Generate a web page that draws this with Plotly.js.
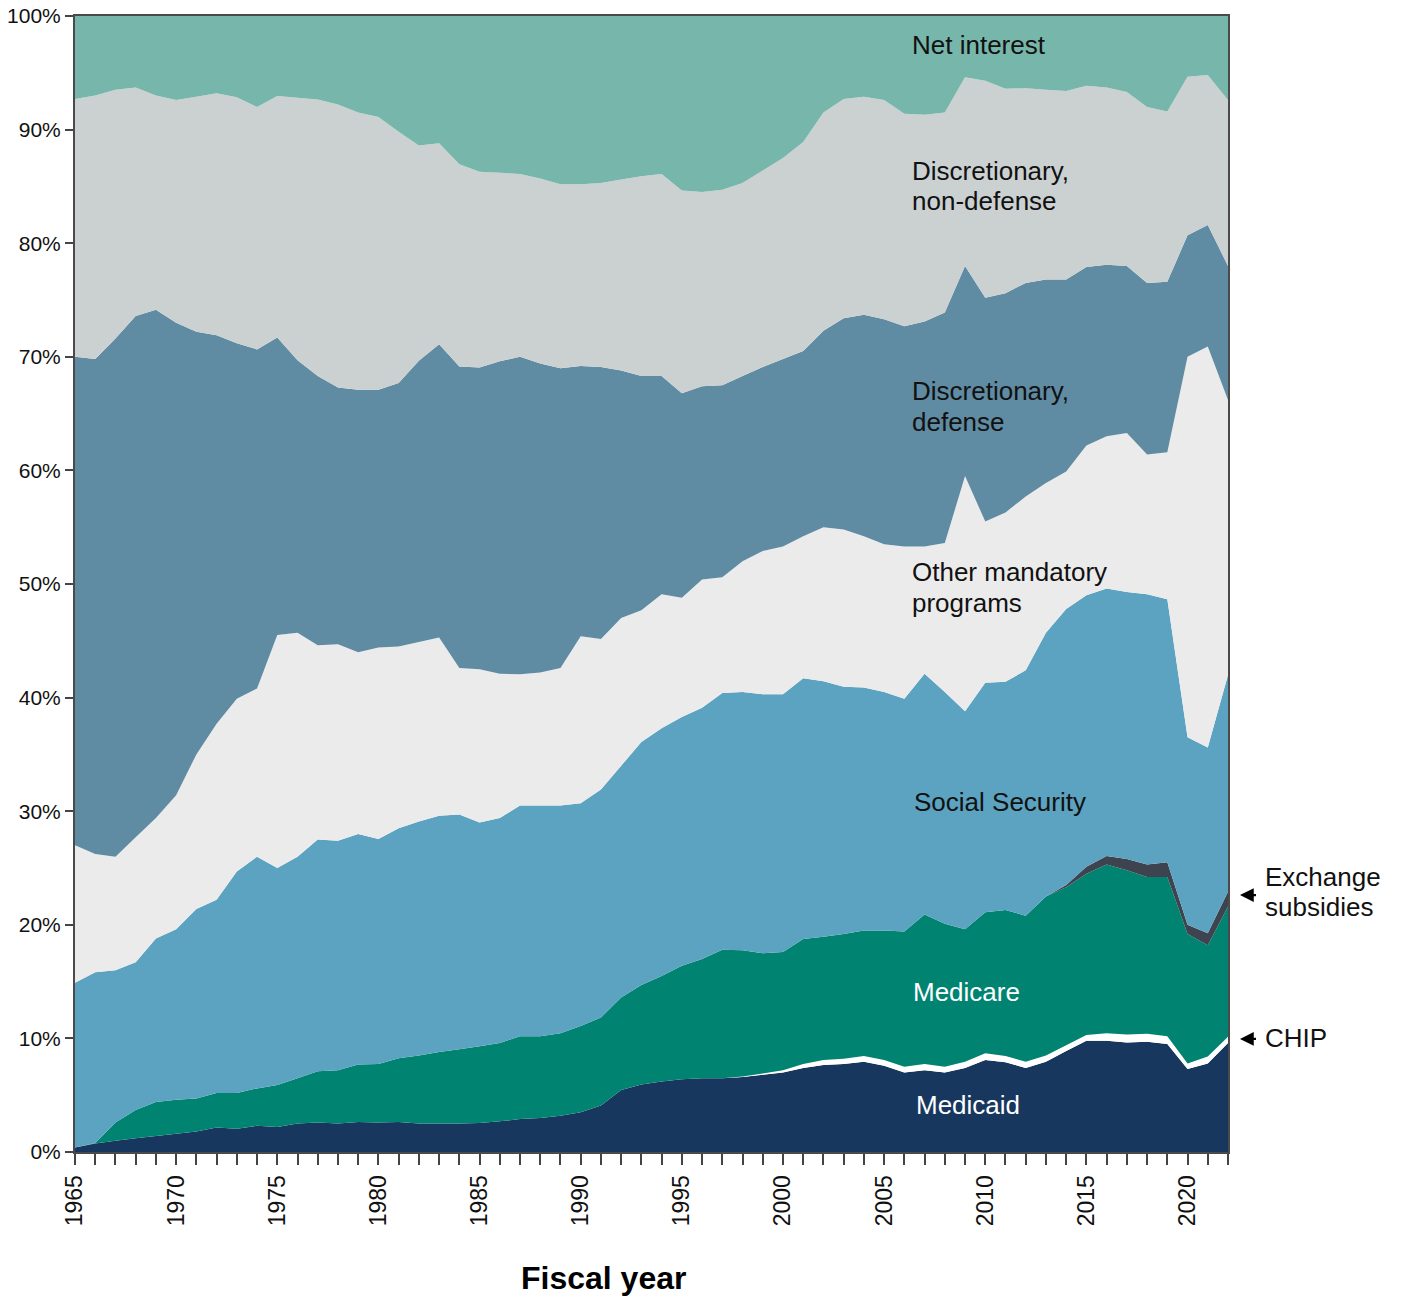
<!DOCTYPE html>
<html>
<head>
<meta charset="utf-8">
<script src="https://cdn.plot.ly/plotly-3.0.1.min.js"></script>
<style>
  html, body { margin: 0; padding: 0; background: #ffffff; }
  #chart { width: 1401px; height: 1297px; }
</style>
</head>
<body>
<div id="chart"></div>
<script>
// Fiscal years
const years = [
  1965,1966,1967,1968,1969,1970,1971,1972,1973,1974,
  1975,1976,1977,1978,1979,1980,1981,1982,1983,1984,
  1985,1986,1987,1988,1989,1990,1991,1992,1993,1994,
  1995,1996,1997,1998,1999,2000,2001,2002,2003,2004,
  2005,2006,2007,2008,2009,2010,2011,2012,2013,2014,
  2015,2016,2017,2018,2019,2020,2021,2022
];

// Shares of total outlays (%)
const medicaid = [
  0.4,0.75,1.0,1.2,1.4,1.6,1.8,2.15,2.05,2.3,
  2.2,2.5,2.6,2.5,2.65,2.6,2.65,2.5,2.5,2.5,
  2.55,2.7,2.9,3.0,3.2,3.5,4.1,5.45,5.95,6.2,
  6.4,6.5,6.5,6.6,6.8,7.0,7.4,7.65,7.75,7.95,
  7.6,7.0,7.2,7.0,7.4,8.1,7.9,7.4,7.95,8.9,
  9.8,9.8,9.65,9.7,9.5,7.3,7.8,9.6
];
const chip = [
  0,0,0,0,0,0,0,0,0,0,
  0,0,0,0,0,0,0,0,0,0,
  0,0,0,0,0,0,0,0,0,0,
  0,0,0,0.05,0.1,0.2,0.35,0.45,0.45,0.5,
  0.5,0.5,0.55,0.5,0.55,0.6,0.55,0.55,0.55,0.5,
  0.5,0.65,0.7,0.7,0.7,0.5,0.6,0.55
];
const medicare = [
  0,0.05,1.6,2.5,3.0,3.0,2.9,3.05,3.15,3.3,
  3.7,4.0,4.5,4.7,5.05,5.15,5.6,6.0,6.3,6.55,
  6.75,6.9,7.3,7.2,7.25,7.6,7.75,8.15,8.75,9.3,
  10.0,10.5,11.3,11.1,10.6,10.4,11.0,10.85,11.0,11.05,
  11.4,11.9,13.15,12.6,11.65,12.4,12.85,12.85,14.0,13.9,
  14.2,14.85,14.45,13.8,14.0,11.4,9.8,11.45
];
const exchangeSubsidies = [
  0,0,0,0,0,0,0,0,0,0,
  0,0,0,0,0,0,0,0,0,0,
  0,0,0,0,0,0,0,0,0,0,
  0,0,0,0,0,0,0,0,0,0,
  0,0,0,0,0,0,0,0,0,0.2,
  0.6,0.75,1.0,1.1,1.3,0.8,1.05,1.3
];
const socialSecurity = [
  14.5,15.03,13.4,13.0,14.4,15.0,16.7,17.0,19.5,20.4,
  19.1,19.5,20.4,20.2,20.3,19.8,20.25,20.6,20.8,20.65,
  19.7,19.8,20.3,20.3,20.05,19.6,20.05,20.4,21.4,21.8,
  21.9,22.1,22.6,22.75,22.8,22.7,22.95,22.5,21.75,21.4,
  21.0,20.5,21.2,20.4,19.2,20.2,20.1,21.6,23.2,24.3,
  23.9,23.55,23.5,23.8,23.15,16.5,16.35,19.1
];
const otherMandatory = [
  12.1,10.4,10.0,11.0,10.6,11.8,13.6,15.5,15.2,14.8,
  20.5,19.7,17.1,17.3,16.0,16.85,16.0,15.8,15.7,12.9,
  13.5,12.7,11.55,11.7,12.1,14.7,13.25,13.0,11.6,11.8,
  10.5,11.3,10.2,11.5,12.6,13.0,12.5,13.55,13.85,13.3,
  13.0,13.4,11.2,13.1,20.7,14.2,14.9,15.3,13.2,12.1,
  13.2,13.4,14.0,12.3,12.95,33.5,35.3,24.2
];
const discDefense = [
  43.0,43.6,45.6,45.9,44.75,41.6,37.2,34.2,31.3,29.85,
  26.2,24.0,23.7,22.6,23.1,22.7,23.2,24.75,25.8,26.55,
  26.55,27.5,27.95,27.2,26.4,23.8,23.95,21.8,20.6,19.2,
  18.0,17.0,16.9,16.3,16.2,16.5,16.3,17.3,18.6,19.5,
  19.8,19.4,19.8,20.3,18.5,19.7,19.3,18.8,17.9,16.9,
  15.7,15.1,14.7,15.1,15.0,10.7,10.7,11.8
];
const discNonDefense = [
  22.7,23.2,21.9,20.1,18.85,19.6,20.7,21.3,21.65,21.35,
  21.25,23.1,24.35,24.9,24.4,24.0,22.1,18.95,17.7,17.8,
  17.25,16.6,16.1,16.3,16.2,16.0,16.2,16.8,17.6,17.8,
  17.85,17.1,17.2,17.0,17.3,17.7,18.4,19.2,19.3,19.2,
  19.3,18.7,18.2,17.6,16.6,19.1,18.0,17.15,16.7,16.6,
  15.95,15.6,15.3,15.5,15.0,13.95,13.2,14.6
];
const netInterest = [
  7.3,7.0,6.5,6.3,7.0,7.4,7.1,6.8,7.15,8.0,
  7.05,7.2,7.35,7.8,8.5,8.9,10.2,11.4,11.2,13.05,
  13.7,13.8,13.9,14.3,14.8,14.8,14.7,14.4,14.1,13.9,
  15.35,15.5,15.3,14.7,13.6,12.5,11.1,8.5,7.3,7.1,
  7.4,8.6,8.7,8.5,5.4,5.7,6.4,6.35,6.5,6.6,
  6.15,6.3,6.7,8.0,8.4,5.35,5.2,7.4
];

const seriesNames = ["Medicaid","CHIP","Medicare","Exchange subsidies","Social Security",
  "Other mandatory programs","Discretionary, defense","Discretionary, non-defense","Net interest"];
const seriesValues = [medicaid, chip, medicare, exchangeSubsidies, socialSecurity,
  otherMandatory, discDefense, discNonDefense, netInterest];
const seriesColors = ["#18375f","#ffffff","#008471","#3d4450","#5ba3c0",
  "#ebebeb","#5f8ba3","#cbd1d1","#77b6aa"];

const traces = seriesNames.map((name, i) => ({
  type: "scatter",
  x: years,
  y: seriesValues[i],
  name: name,
  stackgroup: "one",
  groupnorm: i === 0 ? "percent" : undefined,
  mode: "none",
  fillcolor: seriesColors[i],
  line: { width: 0 },
  hoverinfo: "skip",
  showlegend: false
}));

const FONT = "Liberation Sans, Arial, Helvetica, sans-serif";
const labelFont = { family: FONT, size: 26, color: "#111111" };
const whiteFont = { family: FONT, size: 26, color: "#ffffff" };

// In-chart labels (one annotation per text line)
const labelX = 0.7242;
const annotations = [
  { text: "Net interest", x: labelX, y: 97.45, font: labelFont },
  { text: "Discretionary,", x: labelX, y: 86.35, font: labelFont },
  { text: "non-defense", x: labelX, y: 83.7, font: labelFont },
  { text: "Discretionary,", x: labelX, y: 67.0, font: labelFont },
  { text: "defense", x: labelX, y: 64.3, font: labelFont },
  { text: "Other mandatory", x: labelX, y: 51.1, font: labelFont },
  { text: "programs", x: labelX, y: 48.3, font: labelFont },
  { text: "Social Security", x: 0.7259, y: 30.8, font: labelFont },
  { text: "Medicare", x: 0.7251, y: 14.1, font: whiteFont },
  { text: "Medicaid", x: 0.7277, y: 4.1, font: whiteFont }
].map(a => Object.assign({
  xref: "paper", yref: "y", xanchor: "left", yanchor: "middle",
  align: "left", showarrow: false
}, a));

const sideX = 1.0304;
annotations.push(
  { text: "Exchange", xref: "paper", yref: "paper", x: sideX, y: 0.2421,
    xanchor: "left", yanchor: "middle", showarrow: false, font: labelFont },
  { text: "subsidies", xref: "paper", yref: "paper", x: sideX, y: 0.2157,
    xanchor: "left", yanchor: "middle", showarrow: false, font: labelFont },
  { text: "CHIP", xref: "paper", yref: "paper", x: sideX, y: 0.1004,
    xanchor: "left", yanchor: "middle", showarrow: false, font: labelFont },
  { text: " ", xref: "paper", yref: "paper", x: 1.0104, y: 0.2262, ax: 19, ay: 0,
    showarrow: true, arrowhead: 2, arrowsize: 1.25, arrowwidth: 2.2, arrowcolor: "#000000" },
  { text: " ", xref: "paper", yref: "paper", x: 1.0104, y: 0.0995, ax: 19, ay: 0,
    showarrow: true, arrowhead: 2, arrowsize: 1.25, arrowwidth: 2.2, arrowcolor: "#000000" },
  { text: "<b>Fiscal year</b>", xref: "paper", yref: "paper", x: 0.458, y: -0.111,
    xanchor: "center", yanchor: "middle", showarrow: false,
    font: { family: FONT, size: 32, color: "#000000" } }
);

const layout = {
  width: 1401,
  height: 1297,
  margin: { l: 75, r: 173, t: 16, b: 145 },
  paper_bgcolor: "#ffffff",
  plot_bgcolor: "#ffffff",
  showlegend: false,
  hovermode: false,
  font: { family: FONT, color: "#222222" },
  xaxis: {
    range: [1965, 2022],
    tickmode: "linear",
    tick0: 1965,
    dtick: 5,
    ticks: "outside",
    ticklen: 11,
    tickwidth: 2,
    tickcolor: "#444444",
    tickangle: -90,
    ticklabelstandoff: 1,
    tickfont: { family: FONT, size: 23, color: "#111111" },
    minor: { tick0: 1965, dtick: 1, ticks: "outside", ticklen: 11, tickwidth: 2, tickcolor: "#444444", showgrid: false },
    showgrid: false,
    zeroline: false,
    showline: true,
    linecolor: "#4a4a4a",
    linewidth: 2,
    mirror: true,
    fixedrange: true
  },
  yaxis: {
    range: [0, 100],
    tickmode: "linear",
    tick0: 0,
    dtick: 10,
    ticksuffix: "%",
    ticks: "outside",
    ticklen: 8,
    tickwidth: 2,
    tickcolor: "#444444",
    tickfont: { family: FONT, size: 21, color: "#111111" },
    showgrid: false,
    zeroline: false,
    showline: true,
    linecolor: "#4a4a4a",
    linewidth: 2,
    mirror: true,
    fixedrange: true
  },
  annotations: annotations
};

Plotly.newPlot("chart", traces, layout, { staticPlot: true, displayModeBar: false });
</script>
</body>
</html>
